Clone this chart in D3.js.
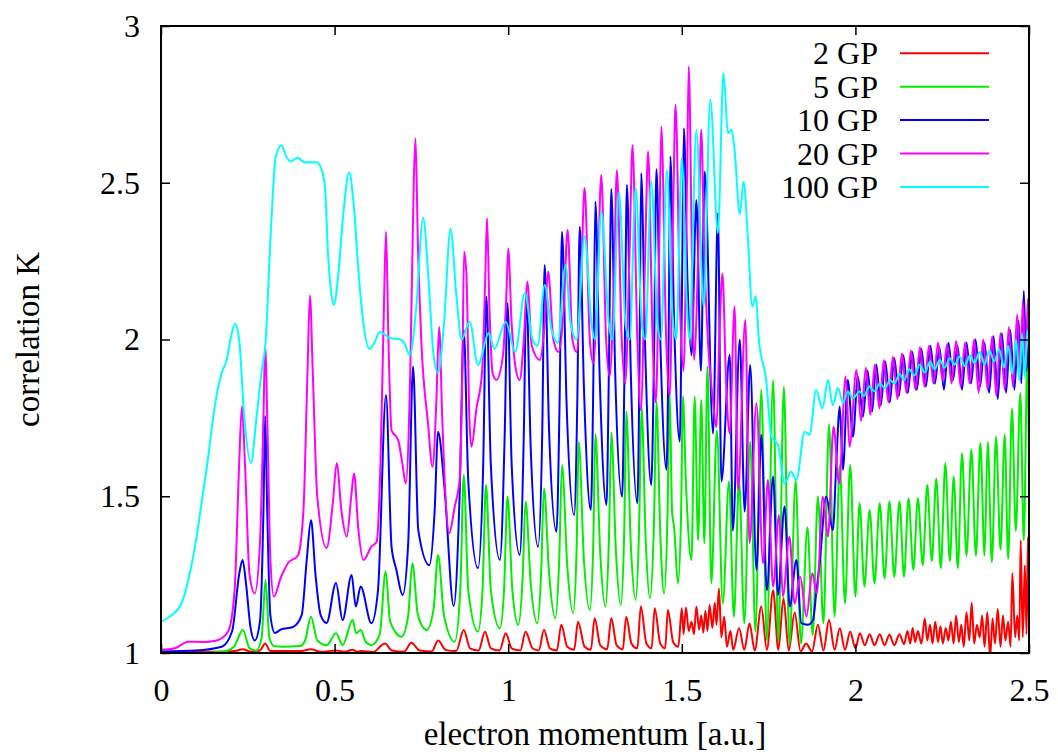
<!DOCTYPE html>
<html>
<head>
<meta charset="utf-8">
<title>correlation K vs electron momentum</title>
<script src="https://d3js.org/d3.v7.min.js"></script>
<style>
	body{
		margin:0;
		background-color:#fff;
	}
	svg text{
		font-family:'Liberation Serif','DejaVu Serif',serif;
		font-size:32px;
		fill:#000;
	}
</style>
</head>
<body>
<div class="screen"></div>
<script>

//DATA

var xTicks = [0, 0.5, 1, 1.5, 2, 2.5];
var xTickLabels = ["0", "0.5", "1", "1.5", "2", "2.5"];
var yTicks = [1, 1.5, 2, 2.5, 3];
var yTickLabels = ["1", "1.5", "2", "2.5", "3"];

var seriesNames = ["2 GP", "5 GP", "10 GP", "20 GP", "100 GP"];
var seriesColors = ["#ff0000", "#00ee00", "#0000ff", "#ff00ff", "#00ffff"];

var gp2 = [[0,1.003],[0.15,1.004],[0.21,1.006],[0.235,1.012],[0.26,1.004],[0.285,1.008],[0.30,1.03],[0.315,1.006],[0.40,1.006],[0.432,1.012],[0.46,1.004],[0.504,1.008],[0.53,1.004],[0.552,1.01],[0.565,1.004],[0.575,1.006],[0.61,1.003],[0.645,1.03],[0.665,1.008],[0.70,1.004],[0.721,1.033],[0.745,1.008],[0.78,1.005],[0.798,1.04],[0.82,1.01],[0.85,1.006],[0.872,1.073],[0.89,1.015],[0.915,1.008],[0.933,1.068],[0.95,1.015],[0.975,1.008],[0.993,1.063],[1.01,1.015],[1.035,1.008],[1.05,1.068],[1.07,1.015],[1.088,1.008],[1.103,1.073],[1.12,1.015],[1.14,1.008],[1.153,1.09],[1.17,1.02],[1.19,1.01],[1.201,1.10],[1.22,1.02],[1.238,1.01],[1.249,1.111],[1.265,1.025],[1.285,1.012],[1.297,1.112],[1.312,1.025],[1.33,1.012],[1.34,1.116],[1.355,1.03],[1.372,1.015],[1.382,1.148],[1.398,1.03],[1.413,1.015],[1.422,1.143],[1.438,1.03],[1.452,1.015],[1.46,1.137],[1.475,1.035],[1.49,1.02],[1.50,1.143],[1.505,1.06],[1.512,1.145],[1.52,1.07],[1.528,1.10],[1.535,1.06],[1.542,1.148],[1.55,1.075],[1.556,1.12],[1.562,1.065],[1.568,1.135],[1.574,1.07],[1.58,1.153],[1.588,1.08],[1.595,1.16],[1.60,1.09],[1.607,1.206],[1.614,1.05],[1.622,1.116],[1.63,1.02],[1.64,1.07],[1.648,1.01],[1.665,1.079],[1.68,1.01],[1.695,1.095],[1.71,1.008],[1.729,1.148],[1.745,1.01],[1.763,1.20],[1.778,1.01],[1.793,1.175],[1.808,1.008],[1.825,1.129],[1.842,1.005],[1.858,1.03],[1.875,1.005],[1.892,1.09],[1.908,1.008],[1.924,1.105],[1.94,1.01],[1.955,1.079],[1.97,1.01],[1.985,1.068],[2.0,1.015],[2.013,1.063],[2.027,1.025],[2.041,1.06],[2.055,1.025],[2.07,1.06],[2.084,1.025],[2.098,1.058],[2.112,1.025],[2.127,1.06],[2.14,1.028],[2.15,1.07],[2.158,1.03],[2.165,1.08],[2.172,1.035],[2.18,1.07],[2.19,1.03],[2.2,1.11],[2.207,1.04],[2.215,1.09],[2.222,1.03],[2.23,1.10],[2.238,1.035],[2.245,1.085],[2.252,1.03],[2.26,1.08],[2.268,1.04],[2.275,1.10],[2.283,1.03],[2.29,1.12],[2.298,1.035],[2.305,1.09],[2.312,1.02],[2.32,1.13],[2.328,1.04],[2.335,1.16],[2.342,1.03],[2.35,1.09],[2.358,1.05],[2.365,1.12],[2.372,1.02],[2.38,1.13],[2.388,0.985],[2.395,1.11],[2.402,1.03],[2.41,1.14],[2.418,1.02],[2.425,1.12],[2.432,1.04],[2.44,1.10],[2.447,1.02],[2.452,1.255],[2.46,1.05],[2.466,1.12],[2.472,1.04],[2.476,1.36],[2.482,1.05],[2.488,1.28],[2.493,1.06],[2.497,1.37],[2.5,1.1]];

var gp5 = [[0,1.0],[0.1,1.0],[0.18,1.005],[0.21,1.02],[0.236,1.073],[0.255,1.015],[0.275,1.008],[0.29,1.05],[0.301,1.233],[0.312,1.05],[0.325,1.022],[0.35,1.02],[0.40,1.022],[0.415,1.04],[0.432,1.116],[0.45,1.04],[0.477,1.025],[0.504,1.063],[0.523,1.025],[0.552,1.105],[0.562,1.063],[0.575,1.073],[0.59,1.035],[0.606,1.025],[0.63,1.06],[0.647,1.26],[0.66,1.10],[0.693,1.052],[0.712,1.12],[0.724,1.286],[0.74,1.12],[0.765,1.073],[0.785,1.14],[0.798,1.313],[0.815,1.12],[0.846,1.036],[0.862,1.2],[0.872,1.568],[0.885,1.2],[0.913,1.068],[0.926,1.2],[0.936,1.536],[0.95,1.2],[0.976,1.079],[0.988,1.2],[0.998,1.499],[1.012,1.2],[1.029,1.09],[1.042,1.25],[1.05,1.483],[1.065,1.22],[1.084,1.095],[1.095,1.26],[1.103,1.525],[1.118,1.25],[1.136,1.111],[1.147,1.3],[1.155,1.60],[1.17,1.28],[1.187,1.127],[1.197,1.33],[1.203,1.674],[1.218,1.30],[1.235,1.137],[1.245,1.35],[1.251,1.699],[1.265,1.32],[1.28,1.148],[1.29,1.36],[1.297,1.703],[1.31,1.33],[1.324,1.153],[1.334,1.38],[1.34,1.77],[1.353,1.35],[1.367,1.169],[1.377,1.40],[1.384,1.786],[1.396,1.36],[1.408,1.175],[1.42,1.42],[1.427,1.802],[1.438,1.38],[1.449,1.19],[1.459,1.45],[1.465,1.834],[1.472,1.45],[1.478,1.40],[1.489,1.222],[1.498,1.45],[1.503,1.818],[1.512,1.54],[1.528,1.297],[1.537,1.818],[1.547,1.36],[1.556,1.807],[1.565,1.35],[1.574,1.914],[1.585,1.222],[1.601,1.71],[1.618,1.158],[1.636,1.547],[1.65,1.116],[1.665,1.55],[1.68,1.095],[1.697,1.674],[1.712,1.068],[1.729,1.84],[1.745,1.04],[1.763,1.87],[1.778,1.036],[1.794,1.85],[1.81,1.025],[1.828,1.55],[1.843,1.03],[1.862,1.40],[1.877,1.057],[1.892,1.50],[1.908,1.095],[1.924,1.73],[1.94,1.116],[1.955,1.60],[1.97,1.158],[1.985,1.60],[2.0,1.18],[2.012,1.478],[2.026,1.212],[2.041,1.456],[2.055,1.222],[2.07,1.478],[2.084,1.238],[2.098,1.483],[2.112,1.243],[2.127,1.483],[2.14,1.243],[2.153,1.494],[2.167,1.265],[2.18,1.494],[2.194,1.28],[2.207,1.536],[2.22,1.293],[2.233,1.557],[2.246,1.27],[2.259,1.605],[2.272,1.293],[2.283,1.563],[2.295,1.27],[2.307,1.637],[2.32,1.31],[2.334,1.648],[2.347,1.31],[2.36,1.669],[2.372,1.31],[2.381,1.674],[2.393,1.29],[2.405,1.69],[2.418,1.33],[2.43,1.696],[2.44,1.30],[2.451,1.78],[2.462,1.39],[2.475,1.829],[2.485,1.36],[2.495,1.924],[2.5,1.6]];

var gp10 = [[0,1.005],[0.1,1.008],[0.175,1.02],[0.205,1.07],[0.225,1.25],[0.235,1.297],[0.245,1.22],[0.258,1.08],[0.27,1.04],[0.285,1.10],[0.295,1.45],[0.30,1.756],[0.306,1.45],[0.315,1.12],[0.328,1.064],[0.345,1.075],[0.38,1.083],[0.405,1.12],[0.42,1.30],[0.432,1.424],[0.445,1.25],[0.46,1.12],[0.477,1.096],[0.504,1.223],[0.523,1.105],[0.549,1.249],[0.561,1.148],[0.575,1.212],[0.606,1.095],[0.625,1.2],[0.648,1.823],[0.664,1.339],[0.678,1.265],[0.696,1.185],[0.712,1.35],[0.726,1.914],[0.741,1.392],[0.773,1.28],[0.788,1.45],[0.798,1.706],[0.817,1.52],[0.843,1.15],[0.86,1.5],[0.872,2.03],[0.885,1.55],[0.913,1.27],[0.928,1.6],[0.937,2.137],[0.95,1.6],[0.976,1.297],[0.99,1.7],[0.998,2.116],[1.01,1.6],[1.033,1.313],[1.045,1.7],[1.052,2.15],[1.065,1.65],[1.086,1.339],[1.098,1.7],[1.105,2.238],[1.118,1.7],[1.139,1.387],[1.148,1.8],[1.155,2.344],[1.168,1.8],[1.19,1.44],[1.199,1.8],[1.206,2.36],[1.218,1.85],[1.238,1.456],[1.245,1.85],[1.251,2.44],[1.263,1.9],[1.283,1.472],[1.29,1.9],[1.297,2.48],[1.308,1.9],[1.328,1.499],[1.335,1.9],[1.342,2.493],[1.353,1.9],[1.372,1.478],[1.378,1.9],[1.383,2.53],[1.395,1.95],[1.412,1.536],[1.42,1.95],[1.427,2.543],[1.438,2.0],[1.456,1.584],[1.462,2.0],[1.467,2.584],[1.478,2.05],[1.494,1.674],[1.5,2.1],[1.506,2.674],[1.516,2.2],[1.528,1.95],[1.542,2.445],[1.555,1.9],[1.566,2.536],[1.59,1.70],[1.604,2.403],[1.614,1.547],[1.638,1.951],[1.647,1.39],[1.667,2.0],[1.681,1.451],[1.697,1.919],[1.715,1.265],[1.729,1.696],[1.745,1.20],[1.763,1.563],[1.777,1.185],[1.796,1.467],[1.811,1.148],[1.83,1.297],[1.844,1.095],[1.863,1.09],[1.878,1.105],[1.887,1.19],[1.897,1.286],[1.916,1.499],[1.935,1.392],[1.945,1.606],[1.955,1.786],[1.964,1.584],[1.978,1.871],[1.993,1.69],[2.007,1.882],[2.022,1.754],[2.035,1.90],[2.048,1.77],[2.06,1.92],[2.073,1.79],[2.086,1.93],[2.099,1.80],[2.112,1.94],[2.125,1.82],[2.138,1.95],[2.151,1.83],[2.164,1.96],[2.177,1.84],[2.19,1.97],[2.203,1.85],[2.216,1.98],[2.229,1.86],[2.242,1.975],[2.255,1.84],[2.268,1.99],[2.281,1.87],[2.294,1.98],[2.307,1.84],[2.32,1.99],[2.333,1.86],[2.346,2.0],[2.359,1.85],[2.372,1.99],[2.385,1.83],[2.398,2.01],[2.41,1.81],[2.422,2.02],[2.434,1.83],[2.446,2.03],[2.458,1.84],[2.47,2.06],[2.478,1.86],[2.485,2.155],[2.492,1.90],[2.5,2.10]];

var gp20 = [[0,1.01],[0.04,1.015],[0.078,1.036],[0.12,1.035],[0.16,1.04],[0.193,1.068],[0.212,1.2],[0.225,1.6],[0.233,1.786],[0.242,1.6],[0.255,1.25],[0.27,1.19],[0.285,1.35],[0.295,1.75],[0.30,1.977],[0.307,1.7],[0.315,1.30],[0.325,1.18],[0.345,1.24],[0.366,1.287],[0.394,1.31],[0.41,1.45],[0.422,1.9],[0.429,2.14],[0.437,1.9],[0.45,1.5],[0.477,1.335],[0.495,1.48],[0.506,1.605],[0.52,1.45],[0.535,1.371],[0.548,1.50],[0.556,1.573],[0.568,1.40],[0.583,1.297],[0.606,1.339],[0.621,1.355],[0.632,1.6],[0.642,2.1],[0.648,2.344],[0.655,2.0],[0.664,1.71],[0.683,1.68],[0.695,1.605],[0.705,1.541],[0.718,1.9],[0.728,2.5],[0.733,2.642],[0.74,2.3],[0.75,1.99],[0.769,1.733],[0.782,1.594],[0.793,1.8],[0.801,2.04],[0.81,1.75],[0.817,1.552],[0.83,1.382],[0.846,1.467],[0.86,1.552],[0.868,1.9],[0.873,2.28],[0.88,2.2],[0.888,1.754],[0.894,1.658],[0.908,1.775],[0.925,1.9],[0.934,2.2],[0.939,2.387],[0.946,2.1],[0.955,1.893],[0.966,1.871],[0.985,1.95],[0.995,2.15],[1.0,2.29],[1.01,2.05],[1.02,1.92],[1.033,1.871],[1.045,2.0],[1.055,2.185],[1.068,1.98],[1.091,1.935],[1.105,2.05],[1.115,2.217],[1.13,2.0],[1.145,1.96],[1.16,2.1],[1.171,2.35],[1.185,2.0],[1.197,1.96],[1.21,2.2],[1.22,2.483],[1.235,2.0],[1.245,1.925],[1.258,2.2],[1.268,2.525],[1.282,2.0],[1.292,1.882],[1.305,2.2],[1.313,2.54],[1.327,2.0],[1.337,1.86],[1.35,2.3],[1.358,2.62],[1.372,2.0],[1.382,1.775],[1.395,2.3],[1.403,2.60],[1.416,2.0],[1.425,1.80],[1.435,2.3],[1.441,2.68],[1.455,2.0],[1.465,1.82],[1.475,2.4],[1.482,2.749],[1.495,2.1],[1.505,1.90],[1.515,2.5],[1.52,2.871],[1.53,2.2],[1.535,1.935],[1.548,2.3],[1.556,2.669],[1.565,2.265],[1.575,2.0],[1.59,1.80],[1.6,1.72],[1.608,2.0],[1.617,2.21],[1.628,1.85],[1.638,1.70],[1.652,2.105],[1.662,1.52],[1.683,2.063],[1.695,1.35],[1.715,1.797],[1.734,1.286],[1.748,1.552],[1.763,1.212],[1.78,1.44],[1.791,1.18],[1.81,1.371],[1.825,1.158],[1.841,1.243],[1.859,1.116],[1.876,1.254],[1.889,1.19],[1.906,1.499],[1.921,1.371],[1.937,1.722],[1.953,1.541],[1.972,1.882],[1.983,1.658],[2.003,1.903],[2.016,1.74],[2.03,1.91],[2.043,1.76],[2.056,1.92],[2.069,1.78],[2.082,1.935],[2.095,1.80],[2.108,1.945],[2.121,1.81],[2.134,1.955],[2.147,1.83],[2.16,1.965],[2.173,1.84],[2.186,1.975],[2.199,1.85],[2.212,1.98],[2.225,1.86],[2.238,1.99],[2.251,1.87],[2.264,1.985],[2.277,1.86],[2.29,1.995],[2.303,1.85],[2.316,1.99],[2.329,1.86],[2.342,2.0],[2.355,1.83],[2.368,2.0],[2.381,1.84],[2.394,2.01],[2.406,1.82],[2.418,2.02],[2.43,1.84],[2.442,2.04],[2.454,1.85],[2.466,2.08],[2.475,1.88],[2.482,2.12],[2.49,1.91],[2.497,2.13],[2.5,2.05]];

var gp100 = [[0,1.10],[0.03,1.12],[0.06,1.16],[0.08,1.24],[0.098,1.34],[0.117,1.48],[0.136,1.626],[0.15,1.75],[0.165,1.85],[0.177,1.90],[0.189,1.935],[0.2,2.00],[0.213,2.05],[0.225,2.0],[0.24,1.75],[0.259,1.606],[0.275,1.75],[0.29,1.9],[0.30,1.977],[0.318,2.38],[0.33,2.58],[0.347,2.62],[0.36,2.585],[0.374,2.568],[0.393,2.58],[0.414,2.565],[0.448,2.565],[0.46,2.55],[0.472,2.49],[0.481,2.276],[0.49,2.15],[0.498,2.11],[0.51,2.2],[0.525,2.4],[0.542,2.533],[0.555,2.43],[0.57,2.2],[0.582,2.06],[0.60,1.97],[0.615,1.99],[0.63,2.025],[0.659,2.005],[0.688,2.0],[0.70,1.99],[0.717,1.95],[0.735,2.1],[0.755,2.388],[0.77,2.2],[0.785,1.95],[0.798,1.893],[0.815,2.05],[0.834,2.353],[0.85,2.15],[0.866,2.0],[0.889,2.057],[0.913,1.919],[0.944,2.02],[0.96,1.97],[0.993,2.057],[1.02,1.96],[1.048,2.148],[1.07,2.0],[1.085,1.98],[1.105,2.174],[1.125,2.03],[1.143,1.99],[1.165,2.238],[1.18,2.05],[1.197,2.0],[1.22,2.33],[1.24,2.05],[1.25,2.0],[1.268,2.41],[1.29,2.05],[1.3,2.0],[1.319,2.467],[1.338,2.05],[1.35,2.0],[1.367,2.483],[1.385,2.05],[1.395,2.0],[1.412,2.504],[1.43,2.05],[1.44,2.0],[1.457,2.54],[1.472,2.1],[1.484,2.0],[1.50,2.578],[1.515,2.1],[1.522,2.0],[1.542,2.669],[1.563,2.105],[1.582,2.765],[1.604,2.34],[1.62,2.85],[1.633,2.658],[1.643,2.669],[1.652,2.605],[1.667,2.40],[1.678,2.504],[1.69,2.33],[1.703,2.105],[1.713,2.139],[1.722,2.0],[1.743,1.871],[1.758,1.69],[1.777,1.664],[1.796,1.541],[1.815,1.578],[1.83,1.552],[1.854,1.706],[1.868,1.696],[1.887,1.839],[1.905,1.78],[1.921,1.871],[1.935,1.79],[1.95,1.845],[1.964,1.797],[1.978,1.834],[1.993,1.813],[2.012,1.834],[2.025,1.82],[2.04,1.85],[2.055,1.835],[2.07,1.86],[2.085,1.845],[2.1,1.87],[2.113,1.86],[2.127,1.89],[2.14,1.87],[2.155,1.905],[2.17,1.885],[2.185,1.92],[2.2,1.895],[2.215,1.93],[2.228,1.905],[2.243,1.935],[2.257,1.91],[2.272,1.94],[2.286,1.92],[2.3,1.945],[2.315,1.915],[2.33,1.95],[2.343,1.925],[2.358,1.96],[2.372,1.92],[2.386,1.965],[2.4,1.93],[2.414,1.97],[2.428,1.91],[2.44,1.98],[2.452,1.89],[2.463,2.0],[2.472,1.87],[2.48,2.02],[2.488,1.88],[2.495,2.03],[2.5,1.95]];

var allSeries = [gp2, gp5, gp10, gp20, gp100];

//SETUP

var width = 1058;
var height = 755;
var margin = {top: 26, right: 29, bottom: 102, left: 161};
var plotW = width - margin.left - margin.right;
var plotH = height - margin.top - margin.bottom;

var svg = d3.select(".screen")
	.append("svg")
	.attr("width", width)
	.attr("height", height);

var x = d3.scaleLinear().domain([0, 2.5]).range([0, plotW]);
var y = d3.scaleLinear().domain([1, 3]).range([plotH, 0]);

var g = svg.append("g")
	.attr("transform", "translate(" + margin.left + "," + margin.top + ")");

g.append("clipPath")
	.attr("id", "plotclip")
	.append("rect")
	.attr("width", plotW)
	.attr("height", plotH);

//CURVES

var line = d3.line()
	.x(function(d){ return x(d[0]); })
	.y(function(d){ return y(d[1]); })
	.curve(d3.curveMonotoneX);

var curves = g.append("g").attr("clip-path", "url(#plotclip)");

curves.selectAll("path")
	.data(allSeries)
	.enter()
	.append("path")
	.attr("fill", "none")
	.attr("stroke", function(d, i){ return seriesColors[i]; })
	.attr("stroke-width", 2)
	.attr("stroke-linejoin", "round")
	.attr("d", line);

//AXES (inward ticks, mirrored)

var xAxis = g.append("g")
	.attr("transform", "translate(0," + plotH + ")")
	.call(d3.axisBottom(x).tickValues(xTicks)
		.tickFormat(function(d, i){ return xTickLabels[i]; })
		.tickSize(-9).tickPadding(25));

var xAxisTop = g.append("g")
	.call(d3.axisTop(x).tickValues(xTicks).tickFormat("").tickSize(-9));

var yAxis = g.append("g")
	.call(d3.axisLeft(y).tickValues(yTicks)
		.tickFormat(function(d, i){ return yTickLabels[i]; })
		.tickSize(-9).tickPadding(21));

var yAxisRight = g.append("g")
	.attr("transform", "translate(" + plotW + ",0)")
	.call(d3.axisRight(y).tickValues(yTicks).tickFormat("").tickSize(-9));

g.selectAll(".domain").remove();
g.selectAll(".tick line").attr("stroke", "#000").attr("stroke-width", 1.5);
g.selectAll(".tick text")
	.attr("font-family", "'Liberation Serif','DejaVu Serif',serif")
	.attr("font-size", 32)
	.attr("fill", "#000");

g.append("rect")
	.attr("width", plotW)
	.attr("height", plotH)
	.attr("fill", "none")
	.attr("stroke", "#000")
	.attr("stroke-width", 2);

//LABELS

svg.append("text")
	.attr("x", margin.left + plotW / 2)
	.attr("y", 745)
	.attr("text-anchor", "middle")
	.style("font-size", "33px")
	.text("electron momentum [a.u.]");

svg.append("text")
	.attr("transform", "translate(39," + (margin.top + plotH / 2) + ") rotate(-90)")
	.attr("text-anchor", "middle")
	.style("font-size", "33px")
	.text("correlation K");

//LEGEND

var legend = svg.append("g");

seriesNames.forEach(function(name, i){
	var cy = 53.3 + i * 33.4;
	legend.append("text")
		.attr("x", 878)
		.attr("y", cy + 11)
		.attr("text-anchor", "end")
		.text(name);
	legend.append("line")
		.attr("x1", 900)
		.attr("x2", 989)
		.attr("y1", cy)
		.attr("y2", cy)
		.attr("stroke", seriesColors[i])
		.attr("stroke-width", 2);
});

</script>
</body>
</html>
